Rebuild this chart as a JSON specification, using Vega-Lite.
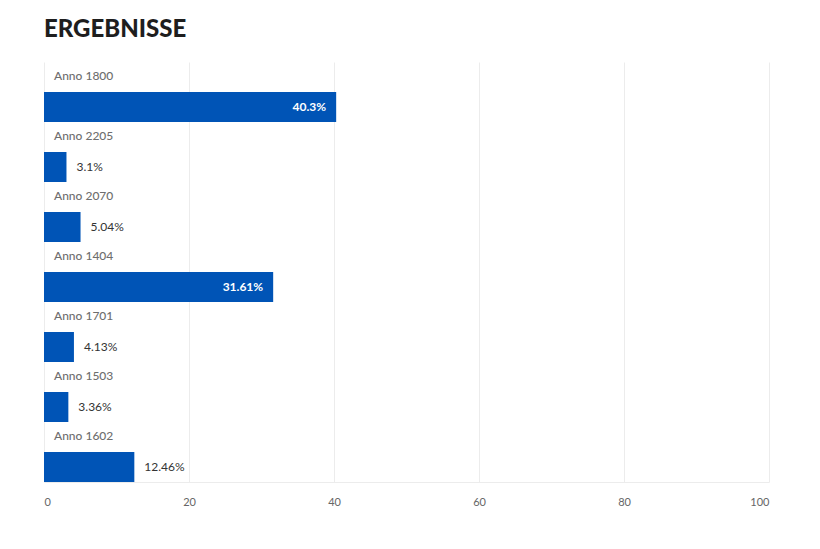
{
  "$schema": "https://vega.github.io/schema/vega-lite/v6.json",
  "width": 725,
  "height": 420,
  "autosize": {"type": "none"},
  "padding": {"left": 44, "top": 62, "right": 51, "bottom": 67},
  "background": "white",
  "title": {
    "text": "ERGEBNISSE",
    "anchor": "start",
    "frame": "group",
    "font": "Lato",
    "fontSize": 24,
    "fontWeight": 900,
    "color": "#1e1e1e",
    "offset": 20
  },
  "data": {
    "values": [
      {"label": "Anno 1800", "value": 40.3, "text": "40.3%"},
      {"label": "Anno 2205", "value": 3.1, "text": "3.1%"},
      {"label": "Anno 2070", "value": 5.04, "text": "5.04%"},
      {"label": "Anno 1404", "value": 31.61, "text": "31.61%"},
      {"label": "Anno 1701", "value": 4.13, "text": "4.13%"},
      {"label": "Anno 1503", "value": 3.36, "text": "3.36%"},
      {"label": "Anno 1602", "value": 12.46, "text": "12.46%"}
    ]
  },
  "encoding": {
    "y": {
      "field": "label",
      "type": "nominal",
      "sort": null,
      "scale": {"paddingInner": 0, "paddingOuter": 0},
      "axis": null
    }
  },
  "layer": [
    {
      "mark": {"type": "bar", "color": "#0054b6", "height": 30, "yOffset": 15},
      "encoding": {
        "x": {
          "field": "value",
          "type": "quantitative",
          "scale": {"domain": [0, 100], "nice": false},
          "axis": {
            "title": null,
            "values": [0, 20, 40, 60, 80, 100],
            "grid": true,
            "gridColor": "#ececec",
            "gridWidth": 1,
            "domain": true,
            "domainColor": "#ececec",
            "ticks": false,
            "labelFlush": true,
            "labelPadding": 14,
            "labelFont": "Lato",
            "labelFontSize": 11,
            "labelColor": "#666666"
          }
        }
      }
    },
    {
      "mark": {"type": "text", "align": "left", "baseline": "middle", "dy": -16, "font": "Lato", "fontSize": 12, "color": "#6e6e6e", "fontWeight": 500},
      "encoding": {
        "x": {"datum": 0, "type": "quantitative"},
        "xOffset": {"value": 10},
        "text": {"field": "label"}
      }
    },
    {
      "transform": [{"filter": "datum.value > 20"}],
      "mark": {"type": "text", "align": "right", "baseline": "middle", "dx": -10, "dy": 15, "font": "Lato", "fontSize": 12, "fontWeight": "bold", "color": "white"},
      "encoding": {
        "x": {"field": "value", "type": "quantitative"},
        "text": {"field": "text"}
      }
    },
    {
      "transform": [{"filter": "datum.value <= 20"}],
      "mark": {"type": "text", "align": "left", "baseline": "middle", "dx": 10, "dy": 15, "font": "Lato", "fontSize": 12, "color": "#333333"},
      "encoding": {
        "x": {"field": "value", "type": "quantitative"},
        "text": {"field": "text"}
      }
    }
  ],
  "config": {"view": {"stroke": null}}
}
